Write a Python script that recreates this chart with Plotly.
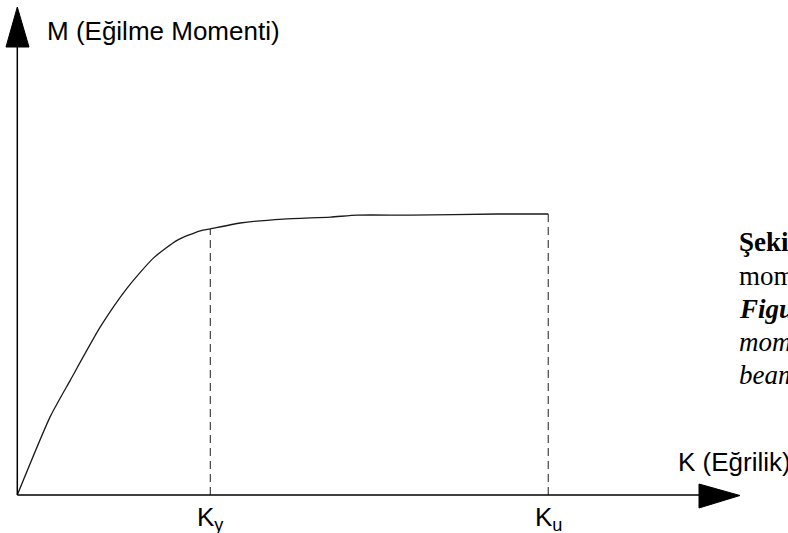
import plotly.graph_objects as go

# Moment-curvature curve (K normalised by Ky, M normalised by Mu)
curvature = [0, 0.17, 0.275, 0.43, 0.57, 0.705, 0.83, 0.948, 1.0, 1.155, 1.378,
             1.622, 1.762, 2.036, 2.487, 2.751]
moment = [0, 0.278, 0.409, 0.598, 0.737, 0.843, 0.907, 0.940, 0.947, 0.968, 0.982,
          0.989, 0.996, 0.996, 1.0, 1.0]
key_curvatures = [1.0, 2.751]
key_moments = [0.947, 1.0]
key_labels = ["K<sub>y</sub>", "K<sub>u</sub>"]
x_title = "K (Eğrilik)"
y_title = "M (Eğilme Momenti)"
caption_lines = ["<b>Şekil</b>", "moment", "<b><i>Figure</i></b>", "<i>moment</i>", "<i>beam</i>"]

W, H = 788, 533
X0, Y0, SX, SY = 17.3, 495.0, 193.0, 281.0  # pixel origin and scale


def kx(px):
    return (px - X0) / SX


def my(py):
    return (Y0 - py) / SY


fig = go.Figure()

# curve
fig.add_trace(go.Scatter(x=curvature, y=moment, mode="lines",
                         line=dict(color="#1a1a1a", width=1.3, shape="spline", smoothing=0.6),
                         hoverinfo="skip", showlegend=False))

# dashed drop lines
for k, m in zip(key_curvatures, key_moments):
    fig.add_trace(go.Scatter(x=[k, k], y=[0, m], mode="lines",
                             line=dict(color="#333333", width=1.1, dash="8px,5px"),
                             hoverinfo="skip", showlegend=False))

shapes = []
# axes lines
shapes.append(dict(type="line", xref="x", yref="y", x0=0, y0=0, x1=0, y1=my(47),
                   line=dict(color="black", width=1.5)))
shapes.append(dict(type="line", xref="x", yref="y", x0=0, y0=0, x1=kx(699), y1=0,
                   line=dict(color="black", width=1.5)))
# arrow heads
shapes.append(dict(type="path", xref="x", yref="y",
                   path=f"M {kx(17.3)} {my(7)} L {kx(29)} {my(47)} L {kx(6)} {my(47)} Z",
                   fillcolor="black", line=dict(color="black", width=1)))
shapes.append(dict(type="path", xref="x", yref="y",
                   path=f"M {kx(740)} {my(495.5)} L {kx(699)} {my(484)} L {kx(699)} {my(508)} Z",
                   fillcolor="black", line=dict(color="black", width=1)))

annotations = []
sans = "Liberation Sans, Arial, sans-serif"
serif = "Liberation Serif, Times New Roman, serif"
annotations.append(dict(text=y_title, x=kx(45), y=my(31), xref="x", yref="y",
                        xanchor="left", yanchor="middle", showarrow=False,
                        font=dict(family=sans, size=26, color="black")))
annotations.append(dict(text=x_title, x=kx(676), y=my(462), xref="x", yref="y",
                        xanchor="left", yanchor="middle", showarrow=False,
                        font=dict(family=sans, size=26, color="black")))
for k, lab in zip(key_curvatures, key_labels):
    annotations.append(dict(text=lab, x=k, y=my(518), xref="x", yref="y",
                            xanchor="center", yanchor="middle", showarrow=False,
                            font=dict(family=sans, size=26, color="black")))
caption_y = [242, 276, 309, 342, 375]
for txt, py in zip(caption_lines, caption_y):
    annotations.append(dict(text=txt, x=kx(737), y=my(py), xref="x", yref="y",
                            xanchor="left", yanchor="middle", showarrow=False,
                            font=dict(family=serif, size=27, color="black")))

fig.update_layout(
    width=W, height=H, autosize=False,
    margin=dict(l=0, r=0, t=0, b=0, pad=0),
    paper_bgcolor="white", plot_bgcolor="white",
    xaxis=dict(range=[kx(0), kx(W)], visible=False, fixedrange=True),
    yaxis=dict(range=[my(H), my(0)], visible=False, fixedrange=True),
    shapes=shapes, annotations=annotations, showlegend=False,
)

fig.write_html("out.html", config={"staticPlot": True},
               post_script="document.body.style.margin='0';document.body.style.overflow='hidden';")
